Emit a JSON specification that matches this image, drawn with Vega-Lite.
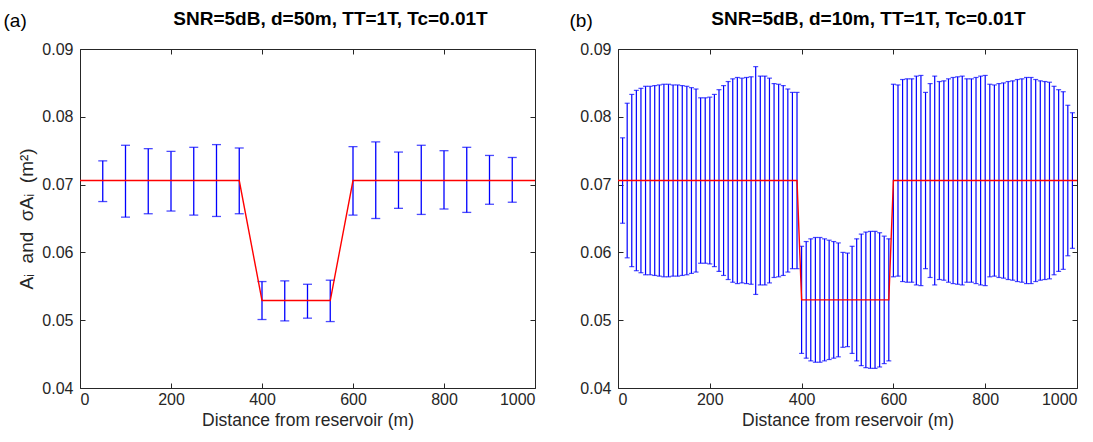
{
  "$schema": "https://vega.github.io/schema/vega-lite/v6.json",
  "background": "white",
  "padding": {"left": 2, "top": 9, "right": 5, "bottom": 5},
  "spacing": 29,
  "config": {
    "font": "Liberation Sans",
    "view": {"stroke": "#262626", "strokeWidth": 1},
    "axis": {
      "grid": false,
      "labelFont": "Liberation Sans",
      "labelFontSize": 16,
      "labelColor": "#262626",
      "tickColor": "#262626",
      "domain": false,
      "tickSize": -5,
      "titleFont": "Liberation Sans",
      "titleFontSize": 17.5,
      "titleFontWeight": "normal",
      "titleColor": "#262626"
    },
    "title": {"font": "Liberation Sans", "fontSize": 19, "fontWeight": "bold", "color": "#000000"}
  },
  "datasets": {
    "a": [
      {"x": 50, "lo": 0.0675, "hi": 0.0735},
      {"x": 100, "lo": 0.0652, "hi": 0.0758},
      {"x": 150, "lo": 0.0657, "hi": 0.0753},
      {"x": 200, "lo": 0.0661, "hi": 0.0749},
      {"x": 250, "lo": 0.0655, "hi": 0.0755},
      {"x": 300, "lo": 0.0653, "hi": 0.0759},
      {"x": 350, "lo": 0.0657, "hi": 0.0754},
      {"x": 400, "lo": 0.0501, "hi": 0.0557},
      {"x": 450, "lo": 0.0499, "hi": 0.0558},
      {"x": 500, "lo": 0.0503, "hi": 0.0553},
      {"x": 550, "lo": 0.0498, "hi": 0.0559},
      {"x": 600, "lo": 0.0655, "hi": 0.0756},
      {"x": 650, "lo": 0.0650, "hi": 0.0763},
      {"x": 700, "lo": 0.0665, "hi": 0.0748},
      {"x": 750, "lo": 0.0656, "hi": 0.0758},
      {"x": 800, "lo": 0.0664, "hi": 0.0750},
      {"x": 850, "lo": 0.0659, "hi": 0.0755},
      {"x": 900, "lo": 0.0671, "hi": 0.0743},
      {"x": 950, "lo": 0.0674, "hi": 0.0740}
    ],
    "ta": [
      {"x": 0, "y": 0.0706},
      {"x": 350, "y": 0.0706},
      {"x": 400, "y": 0.0529},
      {"x": 550, "y": 0.0529},
      {"x": 600, "y": 0.0706},
      {"x": 1000, "y": 0.0706}
    ],
    "b": [
      {"x": 10, "lo": 0.0643, "hi": 0.0769},
      {"x": 20, "lo": 0.0592, "hi": 0.0820},
      {"x": 30, "lo": 0.0579, "hi": 0.0833},
      {"x": 40, "lo": 0.0573, "hi": 0.0839},
      {"x": 50, "lo": 0.0570, "hi": 0.0842},
      {"x": 60, "lo": 0.0567, "hi": 0.0845},
      {"x": 70, "lo": 0.0567, "hi": 0.0845},
      {"x": 80, "lo": 0.0566, "hi": 0.0846},
      {"x": 90, "lo": 0.0565, "hi": 0.0847},
      {"x": 100, "lo": 0.0564, "hi": 0.0848},
      {"x": 110, "lo": 0.0564, "hi": 0.0848},
      {"x": 120, "lo": 0.0565, "hi": 0.0847},
      {"x": 130, "lo": 0.0565, "hi": 0.0847},
      {"x": 140, "lo": 0.0566, "hi": 0.0846},
      {"x": 150, "lo": 0.0567, "hi": 0.0845},
      {"x": 160, "lo": 0.0569, "hi": 0.0843},
      {"x": 170, "lo": 0.0571, "hi": 0.0841},
      {"x": 180, "lo": 0.0584, "hi": 0.0828},
      {"x": 190, "lo": 0.0584, "hi": 0.0828},
      {"x": 200, "lo": 0.0583, "hi": 0.0829},
      {"x": 210, "lo": 0.0579, "hi": 0.0833},
      {"x": 220, "lo": 0.0572, "hi": 0.0840},
      {"x": 230, "lo": 0.0566, "hi": 0.0846},
      {"x": 240, "lo": 0.0560, "hi": 0.0852},
      {"x": 250, "lo": 0.0556, "hi": 0.0856},
      {"x": 260, "lo": 0.0554, "hi": 0.0858},
      {"x": 270, "lo": 0.0555, "hi": 0.0857},
      {"x": 280, "lo": 0.0554, "hi": 0.0858},
      {"x": 290, "lo": 0.0553, "hi": 0.0859},
      {"x": 300, "lo": 0.0538, "hi": 0.0874},
      {"x": 310, "lo": 0.0552, "hi": 0.0860},
      {"x": 320, "lo": 0.0552, "hi": 0.0860},
      {"x": 330, "lo": 0.0555, "hi": 0.0857},
      {"x": 340, "lo": 0.0563, "hi": 0.0849},
      {"x": 350, "lo": 0.0564, "hi": 0.0848},
      {"x": 360, "lo": 0.0566, "hi": 0.0846},
      {"x": 370, "lo": 0.0571, "hi": 0.0841},
      {"x": 380, "lo": 0.0576, "hi": 0.0836},
      {"x": 390, "lo": 0.0576, "hi": 0.0836},
      {"x": 400, "lo": 0.0451, "hi": 0.0609},
      {"x": 410, "lo": 0.0444, "hi": 0.0616},
      {"x": 420, "lo": 0.0440, "hi": 0.0620},
      {"x": 430, "lo": 0.0438, "hi": 0.0622},
      {"x": 440, "lo": 0.0438, "hi": 0.0622},
      {"x": 450, "lo": 0.0440, "hi": 0.0620},
      {"x": 460, "lo": 0.0442, "hi": 0.0618},
      {"x": 470, "lo": 0.0444, "hi": 0.0616},
      {"x": 480, "lo": 0.0446, "hi": 0.0614},
      {"x": 490, "lo": 0.0460, "hi": 0.0600},
      {"x": 500, "lo": 0.0461, "hi": 0.0599},
      {"x": 510, "lo": 0.0451, "hi": 0.0609},
      {"x": 520, "lo": 0.0440, "hi": 0.0620},
      {"x": 530, "lo": 0.0433, "hi": 0.0627},
      {"x": 540, "lo": 0.0430, "hi": 0.0630},
      {"x": 550, "lo": 0.0429, "hi": 0.0631},
      {"x": 560, "lo": 0.0429, "hi": 0.0631},
      {"x": 570, "lo": 0.0431, "hi": 0.0629},
      {"x": 580, "lo": 0.0436, "hi": 0.0624},
      {"x": 590, "lo": 0.0440, "hi": 0.0620},
      {"x": 600, "lo": 0.0564, "hi": 0.0848},
      {"x": 610, "lo": 0.0565, "hi": 0.0847},
      {"x": 620, "lo": 0.0557, "hi": 0.0855},
      {"x": 630, "lo": 0.0556, "hi": 0.0856},
      {"x": 640, "lo": 0.0556, "hi": 0.0856},
      {"x": 650, "lo": 0.0552, "hi": 0.0860},
      {"x": 660, "lo": 0.0551, "hi": 0.0861},
      {"x": 670, "lo": 0.0576, "hi": 0.0836},
      {"x": 680, "lo": 0.0563, "hi": 0.0849},
      {"x": 690, "lo": 0.0552, "hi": 0.0860},
      {"x": 700, "lo": 0.0560, "hi": 0.0852},
      {"x": 710, "lo": 0.0559, "hi": 0.0853},
      {"x": 720, "lo": 0.0556, "hi": 0.0856},
      {"x": 730, "lo": 0.0554, "hi": 0.0858},
      {"x": 740, "lo": 0.0553, "hi": 0.0859},
      {"x": 750, "lo": 0.0552, "hi": 0.0860},
      {"x": 760, "lo": 0.0556, "hi": 0.0856},
      {"x": 770, "lo": 0.0556, "hi": 0.0856},
      {"x": 780, "lo": 0.0554, "hi": 0.0858},
      {"x": 790, "lo": 0.0552, "hi": 0.0860},
      {"x": 800, "lo": 0.0551, "hi": 0.0861},
      {"x": 810, "lo": 0.0564, "hi": 0.0848},
      {"x": 820, "lo": 0.0565, "hi": 0.0847},
      {"x": 830, "lo": 0.0563, "hi": 0.0849},
      {"x": 840, "lo": 0.0562, "hi": 0.0850},
      {"x": 850, "lo": 0.0560, "hi": 0.0852},
      {"x": 860, "lo": 0.0559, "hi": 0.0853},
      {"x": 870, "lo": 0.0557, "hi": 0.0855},
      {"x": 880, "lo": 0.0556, "hi": 0.0856},
      {"x": 890, "lo": 0.0554, "hi": 0.0858},
      {"x": 900, "lo": 0.0554, "hi": 0.0858},
      {"x": 910, "lo": 0.0557, "hi": 0.0855},
      {"x": 920, "lo": 0.0559, "hi": 0.0853},
      {"x": 930, "lo": 0.0560, "hi": 0.0852},
      {"x": 940, "lo": 0.0561, "hi": 0.0851},
      {"x": 950, "lo": 0.0567, "hi": 0.0845},
      {"x": 960, "lo": 0.0572, "hi": 0.0840},
      {"x": 970, "lo": 0.0575, "hi": 0.0837},
      {"x": 980, "lo": 0.0595, "hi": 0.0817},
      {"x": 990, "lo": 0.0606, "hi": 0.0806}
    ],
    "tb": [
      {"x": 0, "y": 0.0706},
      {"x": 390, "y": 0.0706},
      {"x": 400, "y": 0.0530},
      {"x": 590, "y": 0.0530},
      {"x": 600, "y": 0.0706},
      {"x": 1000, "y": 0.0706}
    ]
  },
  "hconcat": [
    {
      "width": 455,
      "height": 339,
      "title": {"text": "SNR=5dB, d=50m, TT=1T, Tc=0.01T", "frame": "group", "anchor": "middle", "offset": 0, "dy": 18, "dx": 23},
      "resolve": {"axis": {"x": "independent", "y": "independent"}},
      "layer": [
        {
          "data": {"name": "a"},
          "mark": {"type": "rule", "color": "#0000ff", "strokeWidth": 1.3},
          "encoding": {
            "x": {"field": "x", "type": "quantitative", "scale": {"domain": [0, 1000]},
              "axis": {"orient": "bottom", "values": [0, 200, 400, 600, 800, 1000], "format": "d", "labelPadding": 8, "title": "Distance from reservoir (m)", "titlePadding": 4}},
            "y": {"field": "lo", "type": "quantitative", "scale": {"domain": [0.04, 0.09]},
              "axis": {"orient": "left", "values": [0.04, 0.05, 0.06, 0.07, 0.08, 0.09], "format": ".2f", "labelPadding": 12, "title": "Aᵢ\u00a0\u00a0and\u00a0\u00a0σAᵢ\u00a0\u00a0(m²)", "titleFontSize": 19, "titlePadding": 5}},
            "y2": {"field": "hi"}
          }
        },
        {
          "data": {"name": "a"},
          "mark": {"type": "tick", "orient": "horizontal", "color": "#0000ff", "size": 9, "thickness": 1.3},
          "encoding": {
            "x": {"field": "x", "type": "quantitative", "axis": null},
            "y": {"field": "lo", "type": "quantitative", "axis": null}
          }
        },
        {
          "data": {"name": "a"},
          "mark": {"type": "tick", "orient": "horizontal", "color": "#0000ff", "size": 9, "thickness": 1.3},
          "encoding": {
            "x": {"field": "x", "type": "quantitative", "axis": null},
            "y": {"field": "hi", "type": "quantitative", "axis": null}
          }
        },
        {
          "data": {"name": "ta"},
          "mark": {"type": "line", "color": "#ff0000", "strokeWidth": 1.4},
          "encoding": {
            "x": {"field": "x", "type": "quantitative",
              "axis": {"orient": "top", "values": [0, 200, 400, 600, 800, 1000], "labels": false, "title": "(a)", "titleX": -77, "titleY": -29, "titleAlign": "left", "titleBaseline": "middle", "titleFontSize": 19, "titleColor": "#000000"}},
            "y": {"field": "y", "type": "quantitative",
              "axis": {"orient": "right", "values": [0.04, 0.05, 0.06, 0.07, 0.08, 0.09], "labels": false, "title": null}}
          }
        }
      ]
    },
    {
      "width": 459,
      "height": 339,
      "title": {"text": "SNR=5dB, d=10m, TT=1T, Tc=0.01T", "frame": "group", "anchor": "middle", "offset": 0, "dy": 18, "dx": 21},
      "resolve": {"axis": {"x": "independent", "y": "independent"}},
      "layer": [
        {
          "data": {"name": "b"},
          "mark": {"type": "rule", "color": "#0000ff", "strokeWidth": 1.2},
          "encoding": {
            "x": {"field": "x", "type": "quantitative", "scale": {"domain": [0, 1000]},
              "axis": {"orient": "bottom", "values": [0, 200, 400, 600, 800, 1000], "format": "d", "labelPadding": 8, "title": "Distance from reservoir (m)", "titlePadding": 4}},
            "y": {"field": "lo", "type": "quantitative", "scale": {"domain": [0.04, 0.09]},
              "axis": {"orient": "left", "values": [0.04, 0.05, 0.06, 0.07, 0.08, 0.09], "format": ".2f", "labelPadding": 12, "title": null}},
            "y2": {"field": "hi"}
          }
        },
        {
          "data": {"name": "b"},
          "mark": {"type": "tick", "orient": "horizontal", "color": "#0000ff", "size": 5, "thickness": 1.2},
          "encoding": {
            "x": {"field": "x", "type": "quantitative", "axis": null},
            "y": {"field": "lo", "type": "quantitative", "axis": null}
          }
        },
        {
          "data": {"name": "b"},
          "mark": {"type": "tick", "orient": "horizontal", "color": "#0000ff", "size": 5, "thickness": 1.2},
          "encoding": {
            "x": {"field": "x", "type": "quantitative", "axis": null},
            "y": {"field": "hi", "type": "quantitative", "axis": null}
          }
        },
        {
          "data": {"name": "tb"},
          "mark": {"type": "line", "color": "#ff0000", "strokeWidth": 1.4},
          "encoding": {
            "x": {"field": "x", "type": "quantitative",
              "axis": {"orient": "top", "values": [0, 200, 400, 600, 800, 1000], "labels": false, "title": "(b)", "titleX": -49, "titleY": -29, "titleAlign": "left", "titleBaseline": "middle", "titleFontSize": 19, "titleColor": "#000000"}},
            "y": {"field": "y", "type": "quantitative",
              "axis": {"orient": "right", "values": [0.04, 0.05, 0.06, 0.07, 0.08, 0.09], "labels": false, "title": null}}
          }
        }
      ]
    }
  ]
}
